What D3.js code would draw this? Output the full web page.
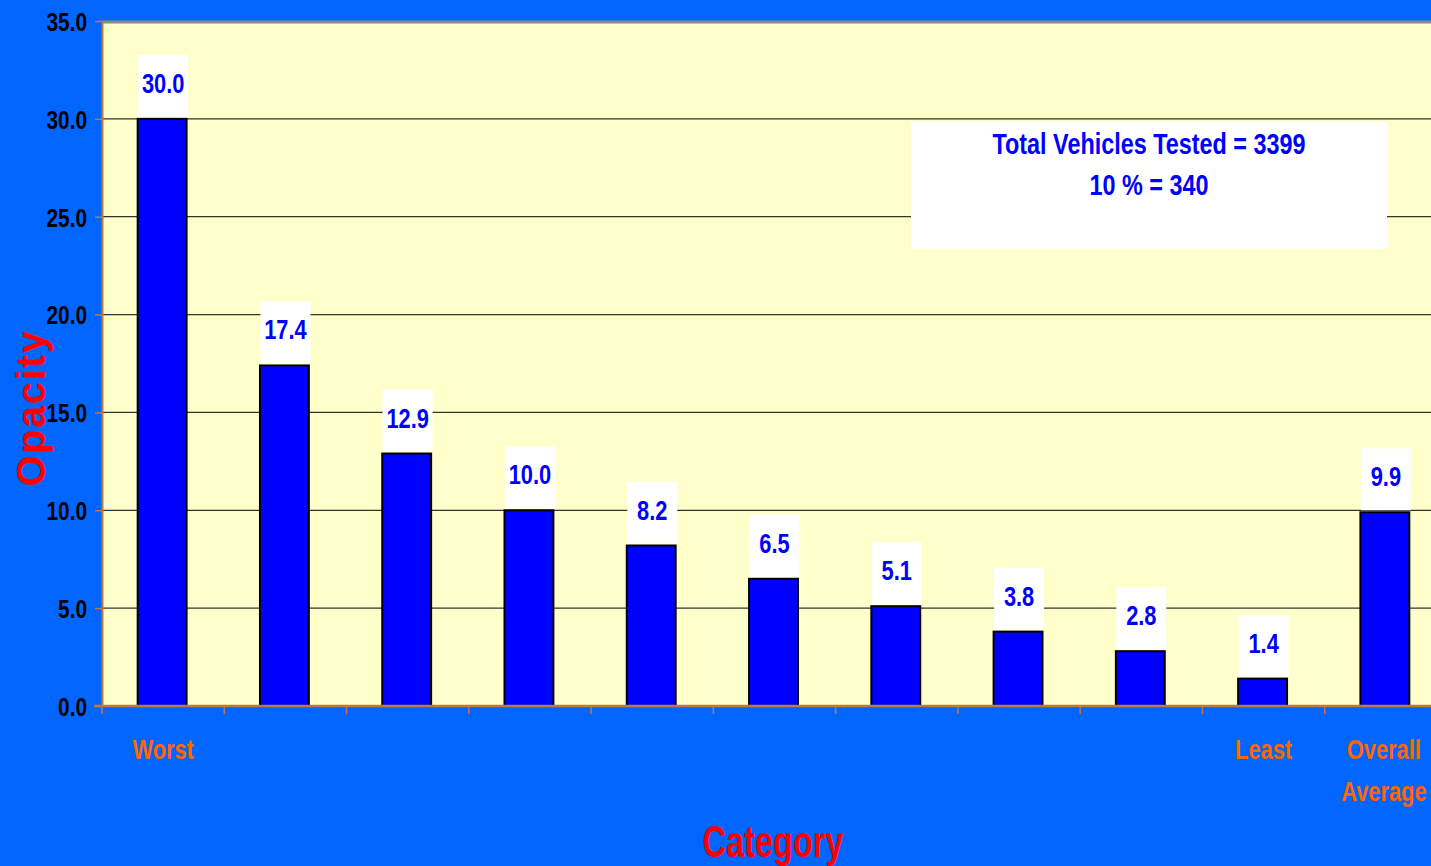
<!DOCTYPE html>
<html>
<head>
<meta charset="utf-8">
<script src="https://cdn.jsdelivr.net/npm/d3@7"></script>
<style>
  html, body { margin: 0; padding: 0; background: #0066ff; overflow: hidden; }
  svg { display: block; }
  text { font-family: "Liberation Sans", Arial, sans-serif; font-weight: bold; }
</style>
</head>
<body>
<svg id="chart" width="1431" height="866"></svg>
<script>
// Opacity by category
const categories = ["c1", "c2", "c3", "c4", "c5", "c6", "c7", "c8", "c9", "c10", "c11"];
const categoryLabels = ["Worst", "", "", "", "", "", "", "", "", "Least", "Overall|Average"];
const opacityValues = [30.0, 17.4, 12.9, 10.0, 8.2, 6.5, 5.1, 3.8, 2.8, 1.4, 9.9];
const yTicks = [0, 5, 10, 15, 20, 25, 30, 35];
const noteLines = ["Total Vehicles Tested = 3399", "10 % = 340"];

// horizontal squeeze to give a condensed face
const SQ = 0.78;

const svg = d3.select("#chart");
const plot = { left: 102, top: 21, right: 1447, bottom: 706 };

const x = d3.scaleBand().domain(categories).range([plot.left, plot.right]).paddingInner(0.6).paddingOuter(0.3);
const xEdges = d3.scaleBand().domain(categories).range([plot.left, plot.right]);
const y = d3.scaleLinear().domain([0, 35]).range([plot.bottom, plot.top]);

// plot background
svg.append("rect")
  .attr("x", plot.left).attr("y", plot.top)
  .attr("width", plot.right - plot.left).attr("height", plot.bottom - plot.top)
  .attr("fill", "#ffffcc");

// gridlines
svg.append("g").selectAll("line").data(yTicks.filter(d => d > 0 && d < 35)).join("line")
  .attr("x1", plot.left).attr("x2", plot.right)
  .attr("y1", d => y(d)).attr("y2", d => y(d))
  .attr("stroke", "#333").attr("stroke-width", 1.2);
svg.append("line")
  .attr("x1", plot.left).attr("x2", plot.right)
  .attr("y1", y(35) + 1).attr("y2", y(35) + 1)
  .attr("stroke", "#888").attr("stroke-width", 3);

// bars
svg.append("g").selectAll("rect").data(opacityValues).join("rect")
  .attr("x", (d, i) => x(categories[i]) - 1)
  .attr("y", d => y(d))
  .attr("width", x.bandwidth())
  .attr("height", d => y(0) - y(d))
  .attr("fill", "#0000ff").attr("stroke", "#000").attr("stroke-width", 2);

// value labels on white boxes
const lbl = svg.append("g").selectAll("g").data(opacityValues).join("g")
  .attr("transform", (d, i) => `translate(${x(categories[i]) + x.bandwidth() / 2 - 1},${y(d)})`);
lbl.append("rect")
  .attr("x", -24).attr("y", -64).attr("width", 50).attr("height", 62)
  .attr("fill", "#ffffff");
lbl.append("text")
  .attr("transform", `translate(1,-26) scale(${SQ},1)`)
  .attr("text-anchor", "middle")
  .attr("font-size", 28).attr("fill", "#0000ff")
  .text(d => d.toFixed(1));

// y axis
const yAxis = svg.append("g").attr("transform", `translate(${plot.left},0)`)
  .call(d3.axisLeft(y).tickValues(yTicks).tickFormat(d3.format(".1f")).tickSize(7).tickSizeOuter(0));
yAxis.select(".domain").attr("stroke", "#c8753a").attr("stroke-width", 2);
yAxis.selectAll(".tick line").attr("stroke", "#c8753a").attr("stroke-width", 1.5);
yAxis.selectAll(".tick text")
  .attr("x", 0).attr("dy", "0.36em")
  .attr("transform", `translate(-15,0) scale(0.8,1)`)
  .attr("font-size", 26).attr("fill", "#000")
  .style("font-family", "'Liberation Sans', Arial, sans-serif").style("font-weight", "bold");

// x axis
const xAxis = svg.append("g").attr("transform", `translate(0,${plot.bottom})`);
xAxis.append("line")
  .attr("x1", plot.left - 8).attr("x2", plot.right)
  .attr("y1", 0).attr("y2", 0)
  .attr("stroke", "#c8753a").attr("stroke-width", 2.5);
xAxis.selectAll("line.tk").data(categories).join("line")
  .attr("class", "tk")
  .attr("x1", d => xEdges(d)).attr("x2", d => xEdges(d))
  .attr("y1", 0).attr("y2", 8)
  .attr("stroke", "#c8753a").attr("stroke-width", 1.5);

// category labels
const catLab = svg.append("g").selectAll("text").data(categoryLabels).join("text")
  .attr("text-anchor", "middle")
  .attr("font-size", 28).attr("fill", "#ff6600")
  .attr("transform", (d, i) => `translate(${xEdges(categories[i]) + xEdges.bandwidth() / 2 + (i === 10 ? -2 : 0)},759) scale(${SQ},1)`);
catLab.selectAll("tspan").data(d => d ? d.split("|") : []).join("tspan")
  .attr("x", 0).attr("dy", (d, j) => j === 0 ? 0 : 42)
  .text(d => d);

// axis titles
svg.append("text")
  .attr("transform", "translate(45,408) rotate(-90)")
  .attr("text-anchor", "middle")
  .attr("font-size", 40).attr("fill", "#ff0000")
  .attr("letter-spacing", 1.5)
  .text("Opacity");

svg.append("text")
  .attr("transform", `translate(773,857) scale(0.74,1)`)
  .attr("text-anchor", "middle")
  .attr("font-size", 44).attr("fill", "#ff0000")
  .text("Category");

// note box
svg.append("rect")
  .attr("x", 911).attr("y", 122).attr("width", 476).attr("height", 127)
  .attr("fill", "#ffffff");
svg.append("g").selectAll("text").data(noteLines).join("text")
  .attr("transform", (d, i) => `translate(1149,${154 + i * 41}) scale(${SQ},1)`)
  .attr("text-anchor", "middle")
  .attr("font-size", 30).attr("fill", "#0000ff")
  .text(d => d);
</script>
</body>
</html>
